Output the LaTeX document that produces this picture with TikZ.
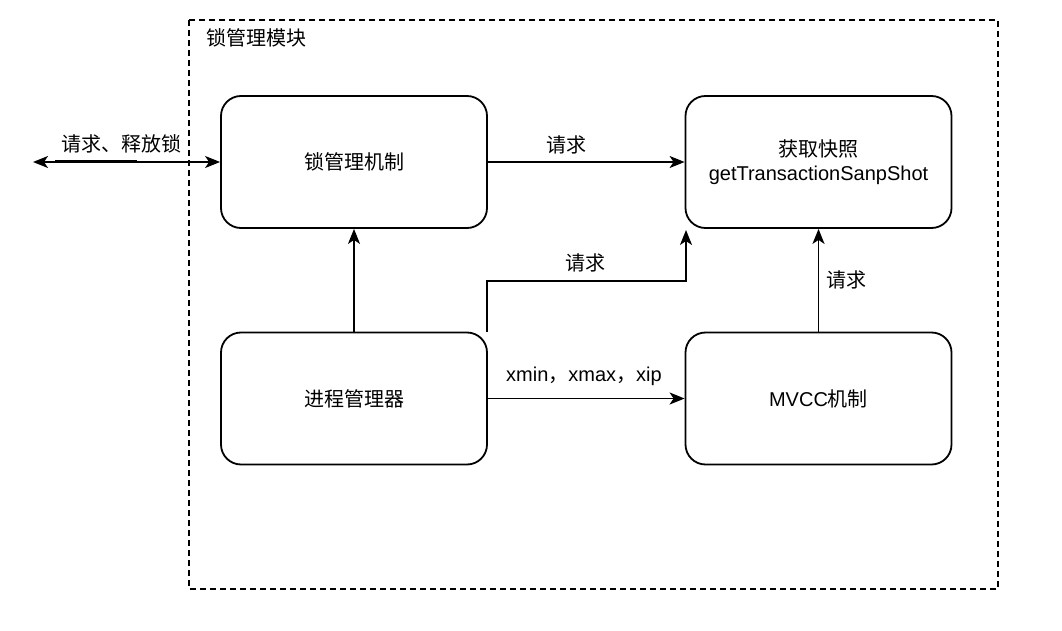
\documentclass[tikz,border=0pt]{standalone}
\usepackage{fontspec}
\setmainfont{Liberation Sans}
\newfontfamily\cjk{Noto Sans CJK SC}
\usetikzlibrary{arrows.meta}
\begin{document}
\begin{tikzpicture}[x=1pt,y=-1pt,
  every node/.style={font=\fontsize{20}{24}\selectfont, inner sep=0pt},
  modbox/.style={draw, line width=1.8pt, rounded corners=20pt, minimum width=266pt, minimum height=132pt, align=center},
  tip/.style={Stealth[length=15pt,width=12pt,inset=4pt]},
  conn/.style={line width=1.8pt, -{Stealth[length=15pt,width=12pt,inset=4pt]}},
  lbl/.style={anchor=center}]
  \useasboundingbox (0,0) rectangle (1062,631);
  % module frame
  \draw[line width=1.4pt, dash pattern=on 6pt off 4pt] (189,20) rectangle (998,589);
  \node[anchor=west] (title) at (206,38) {\cjk 锁管理模块};
  % components
  \node[modbox] (lock) at (354,162) {\cjk 锁管理机制};
  \node[modbox] (snap) at (818.5,162) {{\cjk 获取快照}\\getTransactionSanpShot};
  \node[modbox] (proc) at (354,398.5) {\cjk 进程管理器};
  \node[modbox] (mvcc) at (818.5,398.5) {MVCC{\cjk 机制}};
  % external request / release
  \coordinate (ext) at (33,162);
  \draw[line width=1.8pt, {Stealth[length=15pt,width=12pt,inset=4pt]}-{Stealth[length=15pt,width=12pt,inset=4pt]}] (ext) -- (lock.west);
  \draw[line width=3pt] (55,161.5) -- (137,161.5);
  \node[lbl] (extlbl) at (121,144) {\cjk 请求、释放锁};
  % lock -> snapshot
  \draw[conn] (lock.east) -- (snap.west);
  \node[lbl] (l1) at (566,145) {\cjk 请求};
  % process -> lock
  \draw[conn] (proc.north) -- (lock.south);
  % process -> snapshot (elbow)
  \coordinate (pstart) at (487,332);
  \coordinate (send) at (686,230);
  \draw[conn] (pstart) -- (487,281) -- (686,281) -- (send);
  \node[lbl] (l2) at (585,263) {\cjk 请求};
  % mvcc -> snapshot
  \draw[conn] (mvcc.north) -- (snap.south);
  \node[lbl] (l3) at (846,280) {\cjk 请求};
  % process -> mvcc
  \draw[conn] (proc.east) -- (mvcc.west);
  \node[lbl] (l4) at (584,376) {xmin{\cjk ，}xmax{\cjk ，}xip};
\end{tikzpicture}
\end{document}
